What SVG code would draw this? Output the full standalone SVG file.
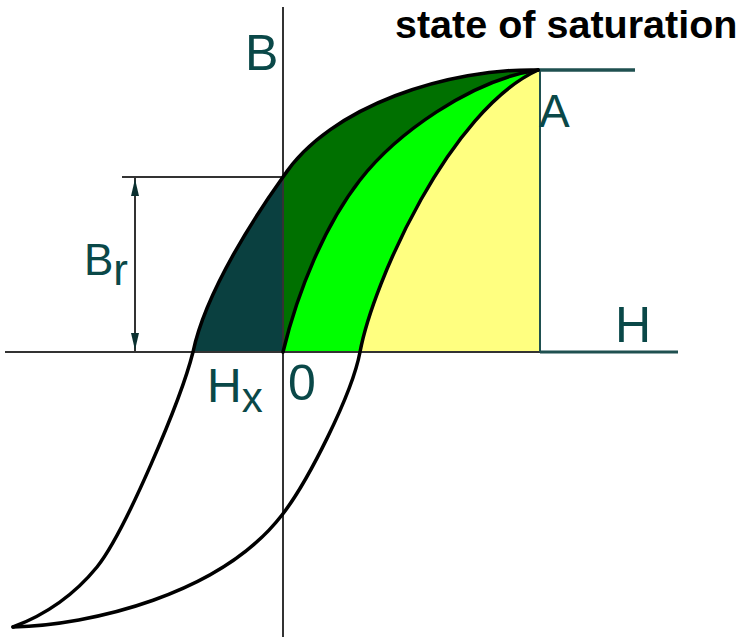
<svg xmlns="http://www.w3.org/2000/svg" width="745" height="637" viewBox="0 0 745 637">
<style>
.lbl{font-family:"Liberation Sans",Arial,sans-serif;fill:#0a4848}
.title{font-family:"Liberation Sans",Arial,sans-serif;font-weight:bold;fill:#000}
.curve{fill:none;stroke:#000;stroke-width:3.5;stroke-linejoin:round;stroke-linecap:round}
.axis{stroke:#333;stroke-width:2;fill:none}
.teal{stroke:#1f5050;fill:none}
</style>
<rect width="745" height="637" fill="#fff"/>
<g id="regions">
<path id="teal-area" d="M283,177 C258,212 206,290 193,352 L283,352 Z" fill="#0a4040"/>
<path id="darkgreen-area" d="M283,352 L283,177 C330,105 450,68 538,70 C470,80 395,135 360,180 C325,225 298,290 283,352 Z" fill="#007000"/>
<path id="green-area" d="M283,352 C298,290 325,225 360,180 C395,135 470,80 538,70 C450,110 373,282 360,352 Z" fill="#00ff00"/>
<path id="yellow-area" d="M360,352 C373,282 450,110 538,70 L540,70 L540,352 Z" fill="#ffff80"/>
</g>
<g id="axes">
<line class="axis" x1="283" y1="7" x2="283" y2="637"/>
<line class="axis" x1="5" y1="352" x2="540" y2="352" stroke-width="2.5"/>
<line class="teal" x1="540" y1="352" x2="678" y2="352" stroke-width="3"/>
<line class="teal" x1="540" y1="70" x2="540" y2="352" stroke-width="2"/>
<line class="teal" x1="538" y1="70" x2="635" y2="70" stroke-width="3.5"/>
<line class="axis" x1="122" y1="177" x2="283" y2="177"/>
<line class="axis" x1="135" y1="177" x2="135" y2="352"/>
<polygon points="135,179 131,196 139,196" fill="#0a3030"/>
<polygon points="135,350 131,333 139,333" fill="#0a3030"/>
</g>
<g id="connectors">
<path id="upper-branch" class="curve" d="M538,70 C450,68 330,105 283,177 C258,212 206,290 193,352 C181,400 125,532 97,567 C75,594 45,615 13,627"/>
<path id="lower-branch" class="curve" d="M13,627 C90,625 220,595 282,515 C307,483 352,395 360,352 C373,282 450,110 538,70"/>
<path id="initial-curve" class="curve" d="M283,352 C298,290 325,225 360,180 C395,135 470,80 538,70"/>
</g>
<g id="labels">
<text class="title" x="395" y="38" font-size="39.5">state of saturation</text>
<text class="lbl" x="245" y="70" font-size="50">B</text>
<text class="lbl" x="84" y="275" font-size="44">B<tspan dy="10">r</tspan></text>
<text class="lbl" x="207" y="402" font-size="48">H<tspan font-size="42" dy="10">x</tspan></text>
<text class="lbl" x="288" y="400" font-size="50">0</text>
<text class="lbl" x="615" y="342" font-size="50">H</text>
<text class="lbl" x="539" y="127" font-size="46">A</text>
</g>
</svg>
